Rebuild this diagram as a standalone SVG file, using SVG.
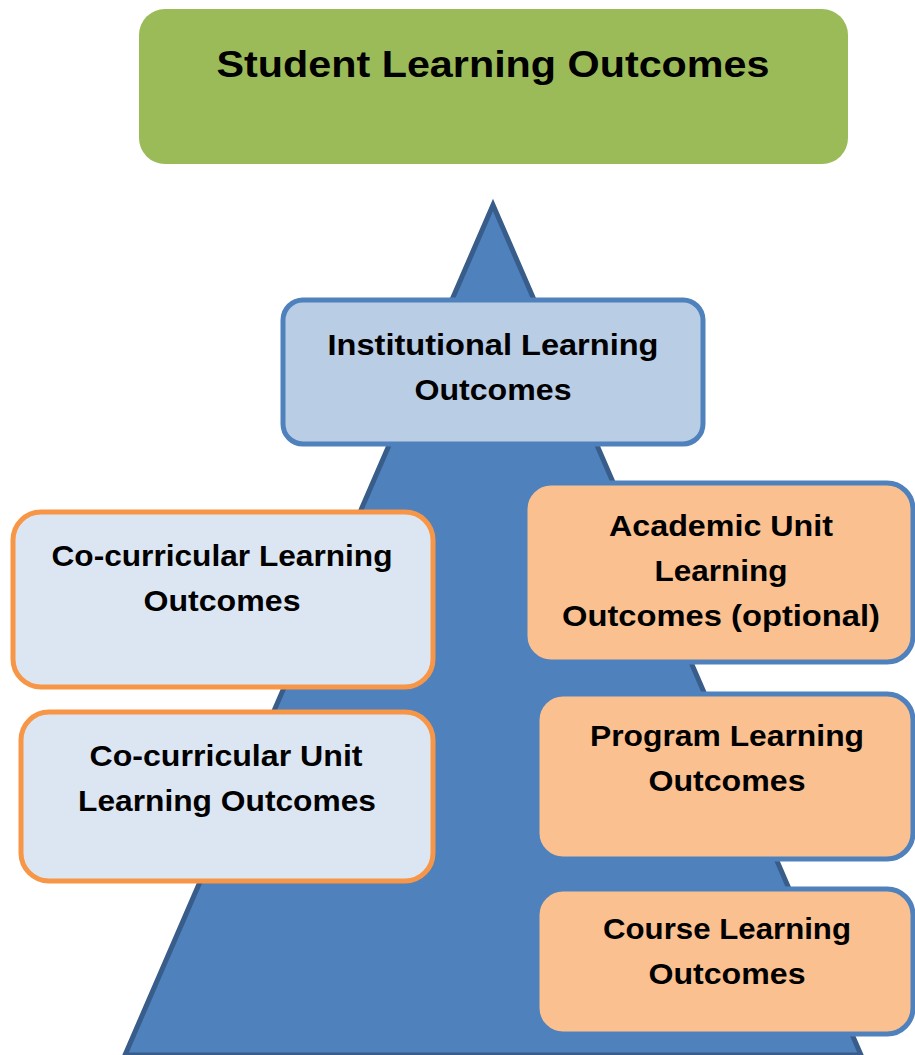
<svg xmlns="http://www.w3.org/2000/svg" width="915" height="1055" viewBox="0 0 915 1055">
<style>
text{font-family:"Liberation Sans",Arial,sans-serif;font-weight:bold;fill:#000;text-anchor:middle}
.t{font-size:30px}
.blue{fill:#B9CDE5;stroke:#4F81BD;stroke-width:5}
.cc{fill:#DCE6F2;stroke:#F79646;stroke-width:5}
.ac{fill:#FAC090;stroke:#4F81BD;stroke-width:5}
</style>
<rect width="915" height="1055" fill="#fff"/>
<g id="pyramid">
<polygon points="493,205 125,1055 861,1055" fill="#4F81BD" stroke="#385D8A" stroke-width="5" stroke-linejoin="miter"/>
</g>
<g id="student">
<rect x="139" y="9" width="709" height="155" rx="26" fill="#9BBB59"/>
<text x="493" y="77" style="font-size:37px" textLength="553" lengthAdjust="spacingAndGlyphs">Student Learning Outcomes</text>
</g>
<g id="institutional">
<rect x="283" y="300" width="420" height="144" rx="20" class="blue"/>
<text class="t" x="493" y="355" textLength="331" lengthAdjust="spacingAndGlyphs">Institutional Learning</text>
<text class="t" x="493" y="400" textLength="157" lengthAdjust="spacingAndGlyphs">Outcomes</text>
</g>
<g id="cocurricular">
<rect x="13" y="512" width="420" height="175" rx="28" class="cc"/>
<text class="t" x="222" y="566" textLength="341" lengthAdjust="spacingAndGlyphs">Co-curricular Learning</text>
<text class="t" x="222" y="611" textLength="157" lengthAdjust="spacingAndGlyphs">Outcomes</text>
</g>
<g id="cocurricular-unit">
<rect x="21" y="712" width="412" height="169" rx="28" class="cc"/>
<text class="t" x="226" y="766" textLength="273" lengthAdjust="spacingAndGlyphs">Co-curricular Unit</text>
<text class="t" x="227" y="811" textLength="298" lengthAdjust="spacingAndGlyphs">Learning Outcomes</text>
</g>
<g id="academic">
<rect x="525" y="483" width="388" height="179" rx="26" class="ac"/>
<text class="t" x="721" y="536" textLength="224" lengthAdjust="spacingAndGlyphs">Academic Unit</text>
<text class="t" x="721" y="581" textLength="133" lengthAdjust="spacingAndGlyphs">Learning</text>
<text class="t" x="721" y="626" textLength="318" lengthAdjust="spacingAndGlyphs">Outcomes (optional)</text>
</g>
<g id="program">
<rect x="537" y="694" width="376" height="165" rx="26" class="ac"/>
<text class="t" x="727" y="746" textLength="274" lengthAdjust="spacingAndGlyphs">Program Learning</text>
<text class="t" x="727" y="791" textLength="157" lengthAdjust="spacingAndGlyphs">Outcomes</text>
</g>
<g id="course">
<rect x="537" y="889" width="376" height="145" rx="26" class="ac"/>
<text class="t" x="727" y="939" textLength="248" lengthAdjust="spacingAndGlyphs">Course Learning</text>
<text class="t" x="727" y="984" textLength="157" lengthAdjust="spacingAndGlyphs">Outcomes</text>
</g>
<g id="connectors"></g>
</svg>
